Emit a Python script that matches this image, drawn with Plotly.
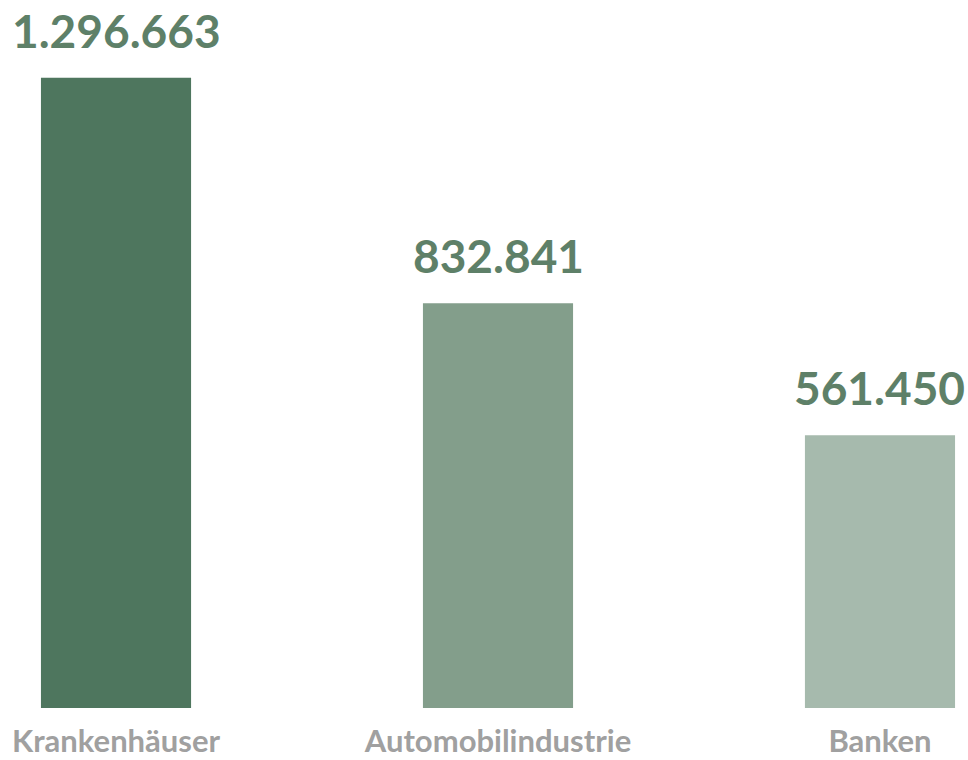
import plotly.graph_objects as go

categories = ["Krankenhäuser", "Automobilindustrie", "Banken"]
values = [1296663, 832841, 561450]
value_labels = ["1.296.663", "832.841", "561.450"]
bar_colors = ["#4E765E", "#839E8B", "#A6BAAD"]

fig = go.Figure()
fig.add_trace(go.Bar(
    x=categories, y=values,
    marker=dict(color=bar_colors, line=dict(width=0)),
    width=0.393,
    hoverinfo="skip",
))

for c, v, t in zip(categories, values, value_labels):
    fig.add_annotation(
        x=c, y=v, text="<b>%s</b>" % t, showarrow=False,
        yanchor="bottom", yshift=18,
        font=dict(family="Lato", size=46, color="#5E8068"),
    )

fig.update_layout(
    width=968, height=760,
    margin=dict(l=0, r=0, t=0, b=52),
    paper_bgcolor="white", plot_bgcolor="white",
    showlegend=False,
    xaxis=dict(
        range=[-0.3037, 2.2304],
        automargin=False,
        showgrid=False, zeroline=False, showline=False, ticks="",
        tickfont=dict(family="Lato", size=31, color="#A0A0A0", weight="bold"),
        ticklabelstandoff=12,
    ),
    yaxis=dict(
        range=[0, 1456790],
        automargin=False,
        visible=False, showgrid=False, zeroline=False,
    ),
)

fig.write_html(
    "out.html",
    config={"displayModeBar": False, "staticPlot": True},
    post_script="document.body.style.margin='0';document.body.style.overflow='hidden';",
)
